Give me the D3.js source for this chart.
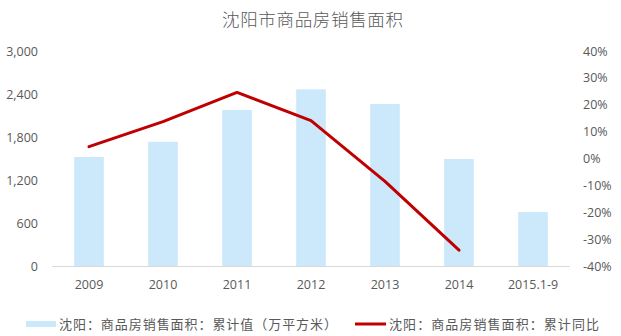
<!DOCTYPE html>
<html>
<head>
<meta charset="utf-8">
<script src="https://cdn.jsdelivr.net/npm/d3@7"></script>
<style>
  html, body { margin: 0; padding: 0; background: #fff; }
  svg { display: block; }
  text { font-family: "Noto Sans CJK SC", "Open Sans", sans-serif; fill: #595959; }
</style>
</head>
<body>
<svg id="chart" width="621" height="336"></svg>
<script>
// 沈阳市商品房销售面积: cumulative area (万平方米) and YoY change (%)
const categories = ["2009", "2010", "2011", "2012", "2013", "2014", "2015.1-9"];
const areaValues = [1521, 1734, 2177, 2465, 2260, 1493, 753];
const yoyCategories = ["2009", "2010", "2011", "2012", "2013", "2014"];
const yoyValues = [4.4, 13.7, 24.6, 14.1, -8.5, -34.1];
const leftTicks = [0, 600, 1200, 1800, 2400, 3000];
const rightTicks = [-40, -30, -20, -10, 0, 10, 20, 30, 40];
const titleText = "沈阳市商品房销售面积";
const legendBar = "沈阳：商品房销售面积：累计值（万平方米）";
const legendLine = "沈阳：商品房销售面积：累计同比";

const svg = d3.select("#chart");
const plot = { left: 52, right: 570, top: 51, bottom: 266 };

const x = d3.scaleBand().domain(categories).range([plot.left, plot.right]).paddingInner(0.6).paddingOuter(0.3);
const yL = d3.scaleLinear().domain([0, 3000]).range([plot.bottom, plot.top]);
const yR = d3.scaleLinear().domain([-40, 40]).range([plot.bottom, plot.top]);

// Title
svg.append("text")
  .attr("x", 222).attr("y", 26)
  .attr("textLength", 181)
  .attr("lengthAdjust", "spacing")
  .style("font-size", "17.5px")
  .style("font-weight", 300)
  .text(titleText);

// Bars
svg.append("g").selectAll("rect")
  .data(categories.map((c, i) => ({ c, v: areaValues[i] })))
  .join("rect")
  .attr("x", d => x(d.c))
  .attr("y", d => yL(d.v))
  .attr("width", x.bandwidth())
  .attr("height", d => yL(0) - yL(d.v))
  .attr("fill", "#CCE8FB");

// Baseline
svg.append("line")
  .attr("x1", plot.left).attr("x2", plot.right)
  .attr("y1", plot.bottom + 0.5).attr("y2", plot.bottom + 0.5)
  .attr("stroke", "#D9D9D9").attr("stroke-width", 1);

// Left axis
const leftAxis = svg.append("g")
  .attr("transform", `translate(38,0)`)
  .call(d3.axisLeft(yL).tickValues(leftTicks).tickFormat(d3.format(",")).tickSize(0).tickPadding(0));
leftAxis.select(".domain").remove();
leftAxis.selectAll("text").style("font-size", "12.5px").style("font-family", "'Open Sans', sans-serif").attr("fill", "#595959");

// Right axis
const rightAxis = svg.append("g")
  .attr("transform", `translate(583,0)`)
  .call(d3.axisRight(yR).tickValues(rightTicks).tickFormat(d => d + "%").tickSize(0).tickPadding(0));
rightAxis.select(".domain").remove();
rightAxis.selectAll("text").style("font-size", "12.5px").style("font-family", "'Open Sans', sans-serif").attr("fill", "#595959");

// Bottom axis
const bottomAxis = svg.append("g")
  .attr("transform", `translate(0,${plot.bottom})`)
  .call(d3.axisBottom(x).tickSize(0).tickPadding(14));
bottomAxis.select(".domain").remove();
bottomAxis.selectAll("text").style("font-size", "12.5px").style("font-family", "'Open Sans', sans-serif").attr("fill", "#595959");

// YoY line
const line = d3.line()
  .x((d, i) => x(yoyCategories[i]) + x.bandwidth() / 2)
  .y(d => yR(d));
svg.append("path")
  .datum(yoyValues)
  .attr("d", line)
  .attr("fill", "none")
  .attr("stroke", "#C00000")
  .attr("stroke-width", 3)
  .attr("stroke-linejoin", "round")
  .attr("stroke-linecap", "round");

// Legend
const legend = svg.append("g");
legend.append("rect")
  .attr("x", 26).attr("y", 321).attr("width", 30).attr("height", 6)
  .attr("fill", "#CCE8FB");
legend.append("text")
  .attr("x", 59).attr("y", 329)
  .attr("textLength", 278)
  .attr("lengthAdjust", "spacing")
  .style("font-size", "13px")
  .text(legendBar);
legend.append("line")
  .attr("x1", 355).attr("x2", 386).attr("y1", 324).attr("y2", 324)
  .attr("stroke", "#C00000").attr("stroke-width", 3);
legend.append("text")
  .attr("x", 389).attr("y", 329)
  .attr("textLength", 210)
  .attr("lengthAdjust", "spacing")
  .style("font-size", "13px")
  .text(legendLine);
</script>
</body>
</html>
